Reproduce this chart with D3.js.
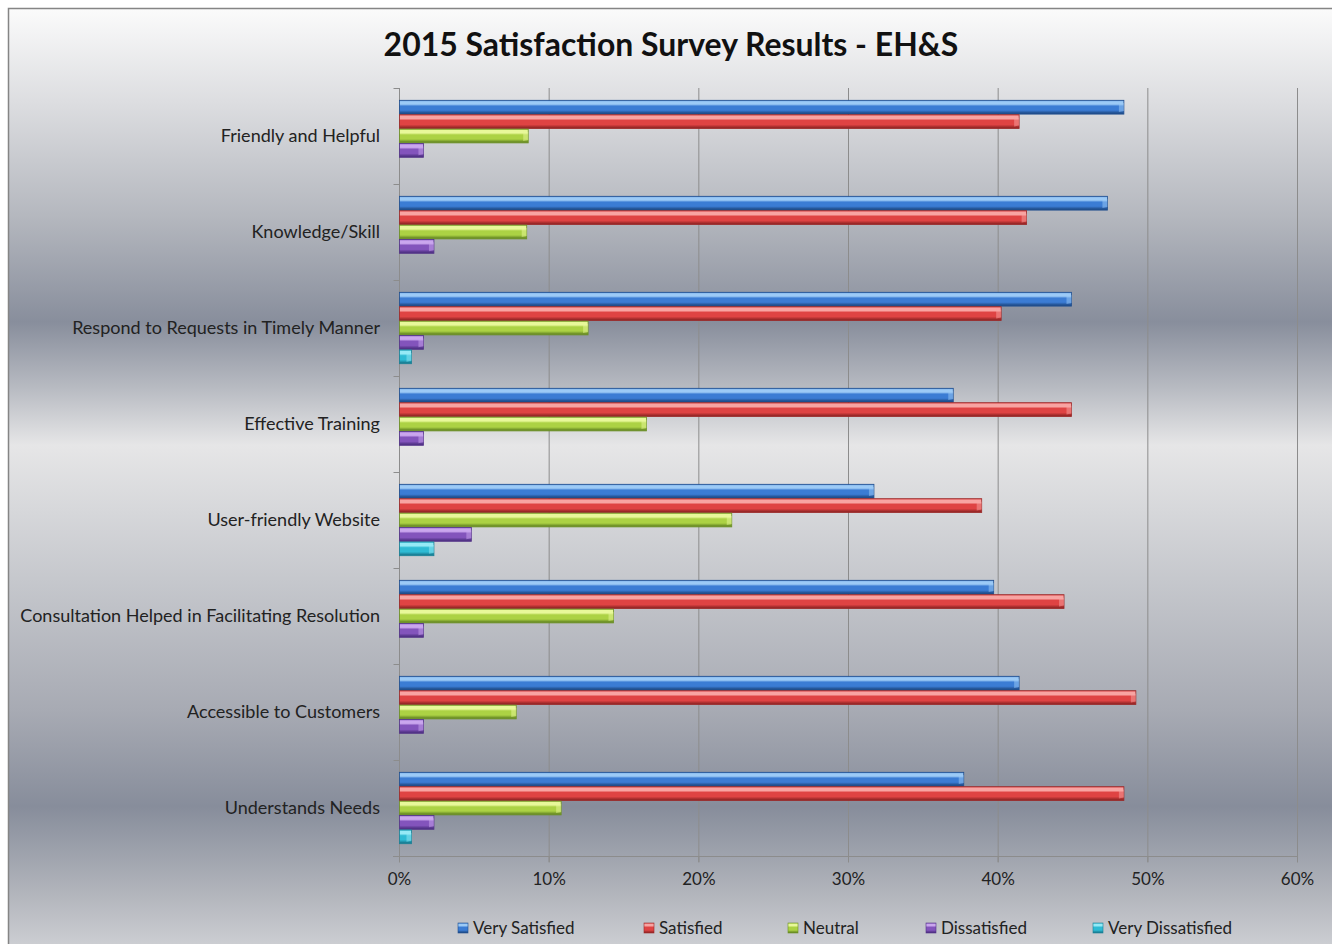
<!DOCTYPE html>
<html>
<head>
<meta charset="utf-8">
<script src="https://cdn.jsdelivr.net/npm/d3@7"></script>
<style>
html,body{margin:0;padding:0;background:#fff;}
svg{display:block;}
text{font-family:Lato, "Open Sans", sans-serif;}
</style>
</head>
<body>
<svg id="chart" width="1332" height="944"></svg>
<script>
const categories = ["Friendly and Helpful","Knowledge/Skill","Respond to Requests in Timely Manner","Effective Training","User-friendly Website","Consultation Helped in Facilitating Resolution","Accessible to Customers","Understands Needs"];
const seriesNames = ["Very Satisfied","Satisfied","Neutral","Dissatisfied","Very Dissatisfied"];
const verySatisfied   = [48.4, 47.3, 44.9, 37.0, 31.7, 39.7, 41.4, 37.7];
const satisfied       = [41.4, 41.9, 40.2, 44.9, 38.9, 44.4, 49.2, 48.4];
const neutral         = [8.6, 8.5, 12.6, 16.5, 22.2, 14.3, 7.8, 10.8];
const dissatisfied    = [1.6, 2.3, 1.6, 1.6, 4.8, 1.6, 1.6, 2.3];
const veryDissatisfied= [0, 0, 0.8, 0, 2.3, 0, 0, 0.8];
const xTicks = [0,10,20,30,40,50,60];
const title = "2015 Satisfaction Survey Results - EH&S";

const seriesValues = [verySatisfied, satisfied, neutral, dissatisfied, veryDissatisfied];
const palette = [
  {light:"#9ccaf6", base:"#3b7cd4", dark:"#214f8e"},
  {light:"#f8a4a2", base:"#df4343", dark:"#9a2828"},
  {light:"#e8f89a", base:"#acd244", dark:"#6c8f26"},
  {light:"#caa6ee", base:"#8354bc", dark:"#533388"},
  {light:"#95eaf6", base:"#2ebbd4", dark:"#1a8096"}
];

const svg = d3.select("#chart");
const defs = svg.append("defs");

const bg = defs.append("linearGradient").attr("id","bg").attr("x1",0).attr("y1",0).attr("x2",0).attr("y2",1);
[[0,"#fbfbfb"],[0.1,"#dcdde0"],[0.22,"#b4b7be"],[0.33,"#888e9c"],[0.4,"#b8bbc2"],[0.46,"#e6e6e7"],[0.6,"#c6c8cd"],[0.74,"#a7aab3"],[0.84,"#878d9b"],[0.93,"#b1b4bb"],[1,"#d3d4d8"]]
  .forEach(([o,c])=>bg.append("stop").attr("offset",o).attr("stop-color",c));

palette.forEach((p,i)=>{
  const g = defs.append("linearGradient").attr("id","bar"+i).attr("x1",0).attr("y1",0).attr("x2",0).attr("y2",1);
  [[0,p.base],[0.1,p.light],[0.28,p.light],[0.42,p.base],[0.72,p.base],[0.92,p.dark],[1,p.dark]]
    .forEach(([o,c])=>g.append("stop").attr("offset",o).attr("stop-color",c));
});

svg.append("rect").attr("x",8.5).attr("y",8.5).attr("width",1340).attr("height",950)
  .attr("fill","url(#bg)").attr("stroke","#858585").attr("stroke-width",1.5);

const plot = {left:399, right:1297, top:88, bottom:856};
const x = d3.scaleLinear().domain([0,60]).range([plot.left, plot.right]);
const y = d3.scaleBand().domain(categories).range([plot.top, plot.bottom]).paddingInner(0.25).paddingOuter(0.125);
const ys = d3.scaleBand().domain(seriesNames).range([0, y.bandwidth()]);
const yb = d3.scaleBand().domain(categories).range([plot.top, plot.bottom]);

const t = svg.append("text").attr("x",671).attr("y",56).attr("text-anchor","middle")
  .attr("font-weight","bold").attr("font-size",30).attr("fill","#111").text(title);
const tw = t.node().getComputedTextLength();
t.attr("font-size", 30*575/tw);

svg.append("g").selectAll("line").data(xTicks.slice(1)).join("line")
  .attr("x1",d=>x(d)+0.5).attr("x2",d=>x(d)+0.5).attr("y1",plot.top).attr("y2",plot.bottom+6)
  .attr("stroke","#8c8c8c").attr("stroke-width",1);

const xAxis = svg.append("g").attr("transform",`translate(0,${plot.bottom+0.5})`)
  .call(d3.axisBottom(x).tickValues(xTicks).tickFormat(d=>d+"%").tickSize(6).tickPadding(10));
xAxis.select(".domain").attr("stroke","#8c8c8c").attr("d",`M${plot.left-6},0H${plot.right}`);
xAxis.selectAll(".tick line").attr("stroke","#8c8c8c");
xAxis.selectAll(".tick text").attr("font-size",17).attr("fill","#222").attr("font-family","Lato");

const yAxisG = svg.append("g").attr("transform",`translate(${plot.left+0.5},0)`);
yAxisG.append("line").attr("x1",0).attr("x2",0).attr("y1",plot.top).attr("y2",plot.bottom).attr("stroke","#8c8c8c");
const bounds = categories.map(c=>yb(c)).concat([plot.bottom]);
yAxisG.selectAll("line.tk").data(bounds).join("line").attr("class","tk")
  .attr("x1",-6).attr("x2",0).attr("y1",d=>Math.round(d)+0.5).attr("y2",d=>Math.round(d)+0.5).attr("stroke","#8c8c8c");

const labels = svg.append("g").selectAll("text").data(categories).join("text")
  .attr("x",380).attr("y",d=>y(d)+y.bandwidth()/2).attr("dy","0.35em")
  .attr("text-anchor","end").attr("font-size",16).attr("fill","#222").text(d=>d);
const lw = labels.filter((d,i)=>i===5).node().getComputedTextLength();
labels.attr("font-size", 16*360/lw);

seriesNames.forEach((s,si)=>{
  const g = svg.append("g");
  const data = categories.map((c,ci)=>({c, v:seriesValues[si][ci]})).filter(d=>d.v>0);
  const h = ys.bandwidth()-0.6;
  g.selectAll("rect").data(data).join("rect")
    .attr("x",x(0)+0.5).attr("y",d=>y(d.c)+ys(s)+0.3)
    .attr("width",d=>x(d.v)-x(0)).attr("height",h)
    .attr("fill",`url(#bar${si})`).attr("stroke",palette[si].dark).attr("stroke-width",0.8);
  g.selectAll("path").data(data).join("path")
    .attr("d",d=>{
      const xe = x(d.v)+0.5, y0 = y(d.c)+ys(s)+0.3, w = Math.min(5,(x(d.v)-x(0))/2);
      return `M${xe-w},${y0+1}L${xe},${y0+3}L${xe},${y0+h-3}L${xe-w},${y0+h-2}Z`;
    })
    .attr("fill",palette[si].light).attr("opacity",0.5);
});

const legendX = [458, 644, 788, 926, 1093];
const lg = svg.append("g");
seriesNames.forEach((s,i)=>{
  lg.append("rect").attr("x",legendX[i]).attr("y",923).attr("width",10).attr("height",10)
    .attr("fill",`url(#bar${i})`).attr("stroke",palette[i].dark).attr("stroke-width",0.6);
  lg.append("text").attr("x",legendX[i]+15).attr("y",928).attr("dy","0.35em")
    .attr("font-size",17).attr("fill","#222").text(s);
});
</script>
</body>
</html>
